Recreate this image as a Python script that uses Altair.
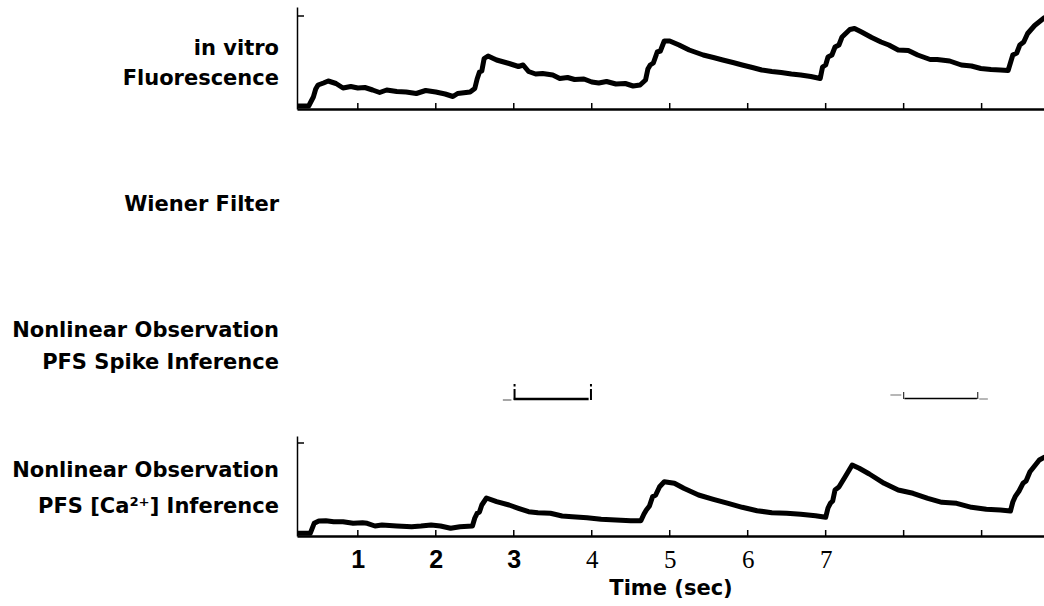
import altair as alt
import pandas as pd

# ---- data (time in sec, fluorescence / [Ca2+] in arbitrary units) ----
TOP_T = [0.22, 0.37, 0.43, 0.46, 0.49, 0.56, 0.62, 0.72, 0.81, 0.91, 1.00, 1.09, 1.19, 1.28, 1.37, 1.50,
         1.62, 1.75, 1.87, 2.00, 2.12, 2.22, 2.28, 2.44, 2.50, 2.53, 2.56, 2.59, 2.62, 2.67, 2.78, 2.94, 3.06,
         3.12, 3.19, 3.28, 3.37, 3.50, 3.59, 3.69, 3.78, 3.90, 4.00, 4.09, 4.19, 4.31, 4.43, 4.53,
         4.62, 4.69, 4.72, 4.75, 4.79, 4.84, 4.88, 4.93, 5.00, 5.12, 5.25, 5.34, 5.43, 5.56, 5.68, 5.81, 5.93, 6.06,
         6.18, 6.31, 6.43, 6.56, 6.68, 6.81, 6.93, 6.96, 7.00, 7.03, 7.08, 7.12, 7.17, 7.21, 7.31, 7.37, 7.46, 7.59,
         7.71, 7.81, 7.93, 8.06, 8.18, 8.34, 8.43, 8.59, 8.74, 8.87, 8.99, 9.12, 9.24, 9.34, 9.40,
         9.45, 9.49, 9.54, 9.59, 9.68, 9.80]
TOP_V = [3, 3, 12, 20, 24, 26, 28, 25.5, 21, 22.5, 21, 21.5, 19, 16.5, 19, 17.5,
         17, 15.5, 18.5, 17, 15, 12.5, 15.5, 17, 20.5, 30, 37, 38, 50.5, 53, 49, 45.5, 42.5,
         44, 37.5, 35, 35.5, 34, 30.5, 31.5, 29.5, 30, 27, 26, 27.5, 25, 25.5, 23,
         24, 29, 40, 44, 46, 57, 58, 68, 68, 64, 59, 56.5, 54, 51.5, 49, 46.5, 44, 41.5,
         39, 37.5, 36.5, 35, 34, 32.5, 30.5, 42, 44, 52, 54, 62, 64, 72, 79.5, 80.5, 77, 71.5,
         67, 64, 59, 58.5, 54, 49.5, 49.5, 48, 44, 43, 40.5, 39.5, 39, 38.5, 54,
         56, 64, 67, 75.5, 83.5, 91]

BOT_T = [0.22, 0.39, 0.44, 0.50, 0.59, 0.69, 0.81, 0.94, 1.06, 1.12, 1.22, 1.31, 1.50, 1.69, 1.81,
         1.94, 2.06, 2.19, 2.31, 2.47, 2.50, 2.53, 2.56, 2.59, 2.65, 2.78, 2.94, 3.06, 3.19, 3.31, 3.47, 3.62,
         3.75, 3.94, 4.12, 4.31, 4.50, 4.63, 4.67, 4.70, 4.74, 4.78, 4.82, 4.87, 4.93, 5.06, 5.18, 5.37, 5.56, 5.75,
         5.93, 6.12, 6.31, 6.50, 6.68, 6.87, 7.00, 7.03, 7.06, 7.09, 7.12, 7.17, 7.25, 7.34, 7.43, 7.56, 7.75, 7.93,
         8.12, 8.31, 8.49, 8.68, 8.87, 9.06, 9.24, 9.37, 9.40, 9.43, 9.48, 9.53, 9.57, 9.62, 9.74, 9.80]
BOT_V = [2.7, 2.7, 12.7, 15, 15.3, 14.3, 14.3, 12.7, 13.3, 12.7, 10, 11, 10, 9.3, 10,
         11, 10, 7.7, 9.3, 10, 18, 22.7, 24, 31, 38, 34.3, 31, 27.7, 24.3, 23.3, 22.7, 20,
         19.3, 18.3, 16.7, 16, 15.3, 15.3, 22, 26, 30, 39.3, 41, 49.3, 54.3, 52.7, 47.7, 41, 36.7, 32.7,
         28.7, 25.3, 23.3, 22.7, 21.7, 20.3, 18.7, 28, 32.7, 35, 46, 49, 59.3, 71, 67.7, 62, 52.7, 46,
         42.7, 37.7, 33.7, 32.7, 28.7, 26.7, 26, 25, 34, 39.3, 45, 52.7, 55, 64.3, 76, 78.7]

TICK_T = [1, 2, 3, 4, 5, 6, 7, 8, 9]          # inward ticks on both time axes
LABEL_T = [1, 2, 3, 4, 5, 6, 7]               # labelled ticks on the bottom axis
Y_TICK = [93]                                 # single inward tick on each y axis

# scan fragments in the spike-inference row
FRAG_A_T = [3.0, 3.96]
FRAG_A_TICKS = [3.01, 3.99]
FRAG_A_STUB = [2.86, 2.97]
FRAG_B_T = [8.01, 8.94]
FRAG_B_TICKS = [8.0, 8.95]
FRAG_B_STUB_L = [7.83, 7.97]
FRAG_B_STUB_R = [8.97, 9.08]

X_DOMAIN = [0.22, 9.8]
W = 747
H_TOP, H_MID, H_BOT = 102, 327, 100

FONT = "DejaVu Sans"
FS = 21

xscale = alt.Scale(domain=X_DOMAIN, nice=False, zero=False)
yscale_top = alt.Scale(domain=[0, H_TOP], nice=False, zero=True)
yscale_bot = alt.Scale(domain=[0, H_BOT], nice=False, zero=True)

one = pd.DataFrame({"k": [0]})

AX_X_TOP = alt.Axis(domain=True, domainColor="black", domainWidth=2.5, ticks=False,
                    labels=False, grid=False, title=None)
AX_Y = alt.Axis(domain=True, domainColor="black", domainWidth=1.5, ticks=False,
                labels=False, grid=False, title=None)
AX_X_BOT = alt.Axis(values=LABEL_T, format="d", domain=True, domainColor="black",
                    domainWidth=2.5, ticks=False, tickSize=0, grid=False,
                    labelFont={"condition": {"test": "datum.value <= 3", "value": "Liberation Sans"},
                               "value": "Liberation Serif"},
                    labelFontWeight={"condition": {"test": "datum.value <= 3", "value": "bold"},
                                     "value": "normal"},
                    labelFontSize=25, labelColor="black", labelBaseline="alphabetic",
                    labelPadding=31, labelFlush=False, labelOverlap=False,
                    title="Time (sec)", titleFont=FONT, titleFontWeight="bold",
                    titleFontSize=21, titleColor="black", titleBaseline="alphabetic", titleY=58)


def label(text, y):
    return alt.Chart(one).mark_text(align="right", baseline="alphabetic", font=FONT,
                                    fontWeight="bold", fontSize=FS, color="black").encode(
        x=alt.value(-18), y=alt.value(y), text=alt.value(text))


def panel(t, v, height, yscale, xaxis):
    df = pd.DataFrame({"t": t, "v": v})
    line = alt.Chart(df).mark_line(color="black", strokeWidth=5, strokeJoin="round",
                                   strokeCap="round", clip=True).encode(
        x=alt.X("t:Q", scale=xscale, axis=xaxis),
        y=alt.Y("v:Q", scale=yscale, axis=AX_Y))
    ticks = alt.Chart(pd.DataFrame({"t": TICK_T})).mark_rule(color="black", strokeWidth=1.5).encode(
        x=alt.X("t:Q", scale=xscale, axis=xaxis),
        y=alt.value(height - 6), y2=alt.value(height))
    ytick = alt.Chart(pd.DataFrame({"v": Y_TICK})).mark_rule(color="black", strokeWidth=1.5).encode(
        y=alt.Y("v:Q", scale=yscale, axis=AX_Y),
        x=alt.value(0), x2=alt.value(7))
    return [line, ticks, ytick]


# --- top panel ---
anchor = alt.Chart(one).mark_rule(opacity=0, strokeWidth=1).encode(
    x=alt.value(-297), x2=alt.value(-296), y=alt.value(-7), y2=alt.value(-6))
top = alt.layer(
    *panel(TOP_T, TOP_V, H_TOP, yscale_top, AX_X_TOP),
    label("in vitro", 48), label("Fluorescence", 78), anchor,
).properties(width=W, height=H_TOP)

# --- middle rows (Wiener filter, spike inference) ---
segA = alt.Chart(pd.DataFrame({"a": [FRAG_A_T[0]], "b": [FRAG_A_T[1]]})).mark_rule(
    color="black", strokeWidth=2.5).encode(
    x=alt.X("a:Q", scale=xscale, axis=None), x2="b:Q", y=alt.value(290))
stemA = alt.Chart(pd.DataFrame({"t": FRAG_A_TICKS})).mark_rule(color="black", strokeWidth=2).encode(
    x=alt.X("t:Q", scale=xscale, axis=None), y=alt.value(280), y2=alt.value(291))
dotA = alt.Chart(pd.DataFrame({"t": FRAG_A_TICKS})).mark_rule(color="black", strokeWidth=2).encode(
    x=alt.X("t:Q", scale=xscale, axis=None), y=alt.value(275), y2=alt.value(277.5))
stubA = alt.Chart(pd.DataFrame({"a": [FRAG_A_STUB[0]], "b": [FRAG_A_STUB[1]]})).mark_rule(
    color="#888888", strokeWidth=1.5).encode(
    x=alt.X("a:Q", scale=xscale, axis=None), x2="b:Q", y=alt.value(291))
segB = alt.Chart(pd.DataFrame({"a": [FRAG_B_T[0]], "b": [FRAG_B_T[1]]})).mark_rule(
    color="black", strokeWidth=1.5).encode(
    x=alt.X("a:Q", scale=xscale, axis=None), x2="b:Q", y=alt.value(289.5))
stemB = alt.Chart(pd.DataFrame({"t": FRAG_B_TICKS})).mark_rule(color="#333333", strokeWidth=1.2).encode(
    x=alt.X("t:Q", scale=xscale, axis=None), y=alt.value(283), y2=alt.value(290))
stubBL = alt.Chart(pd.DataFrame({"a": [FRAG_B_STUB_L[0]], "b": [FRAG_B_STUB_L[1]]})).mark_rule(
    color="#888888", strokeWidth=1.2).encode(
    x=alt.X("a:Q", scale=xscale, axis=None), x2="b:Q", y=alt.value(286))
stubBR = alt.Chart(pd.DataFrame({"a": [FRAG_B_STUB_R[0]], "b": [FRAG_B_STUB_R[1]]})).mark_rule(
    color="#888888", strokeWidth=1.2).encode(
    x=alt.X("a:Q", scale=xscale, axis=None), x2="b:Q", y=alt.value(290))

mid = alt.layer(
    label("Wiener Filter", 102),
    label("Nonlinear Observation", 228),
    label("PFS Spike Inference", 260),
    segA, stemA, dotA, stubA, segB, stemB, stubBL, stubBR,
).properties(width=W, height=H_MID)

# --- bottom panel ---
bot = alt.layer(
    *panel(BOT_T, BOT_V, H_BOT, yscale_bot, AX_X_BOT),
    label("Nonlinear Observation", 41), label("PFS [Ca²⁺] Inference", 77),
).properties(width=W, height=H_BOT)

chart = alt.vconcat(top, mid, bot, spacing=0, bounds="flush").properties(
    padding=0, background="white"
).configure_view(stroke=None)

chart.save("out.html", embed_options={"renderer": "svg", "actions": False})
